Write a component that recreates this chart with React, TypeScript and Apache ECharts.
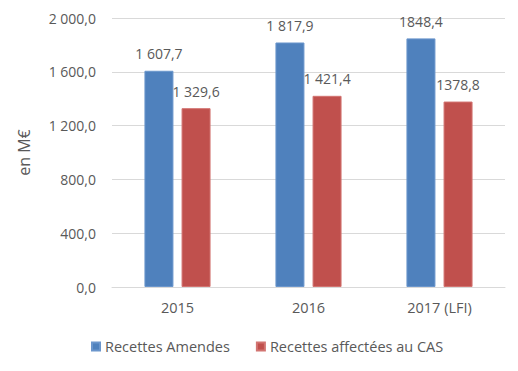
import React, { useEffect, useRef } from "react";
import * as echarts from "echarts";

const categories = ["2015", "2016", "2017 (LFI)"];
const amendes = [1607.7, 1817.9, 1848.4];
const affectees = [1329.6, 1421.4, 1378.8];
const amendesLabels = ["1 607,7", "1 817,9", "1848,4"];
const affecteesLabels = ["1 329,6", "1 421,4", "1378,8"];
const seriesNames = ["Recettes Amendes", "Recettes affectées au CAS"];

const fmtAxis = (v: number) => {
  const s = v.toFixed(1).replace(".", ",");
  const [i, d] = s.split(",");
  return i.replace(/\B(?=(\d{3})+(?!\d))/g, " ") + "," + d;
};

const FONT = "Open Sans";
const TXT = "#595959";

export default function App() {
  const ref = useRef<HTMLDivElement>(null);
  useEffect(() => {
    if (!ref.current) return;
    const chart = echarts.init(ref.current, undefined, { renderer: "svg" });
    chart.setOption({
      animation: false,
      textStyle: { fontFamily: FONT, color: TXT },
      grid: { left: 112, right: 13, top: 18, bottom: 84, containLabel: false },
      legend: {
        bottom: 12,
        left: 86,
        itemWidth: 8,
        itemHeight: 8,
        itemGap: 26,
        icon: "rect",
        textStyle: { fontFamily: FONT, color: TXT, fontSize: 14.5 },
        data: seriesNames,
      },
      xAxis: {
        type: "category",
        data: categories,
        axisLine: { lineStyle: { color: "#d9d9d9" } },
        axisTick: { show: false },
        axisLabel: { color: TXT, fontSize: 14.5, fontFamily: FONT, margin: 13 },
      },
      yAxis: {
        type: "value",
        min: 0,
        max: 2000,
        interval: 400,
        name: "en M€",
        nameLocation: "middle",
        nameGap: 80,
        nameRotate: 90,
        nameTextStyle: { color: TXT, fontSize: 16, fontFamily: FONT },
        axisLine: { show: false },
        axisTick: { show: false },
        splitLine: { lineStyle: { color: "#d9d9d9", width: 1 } },
        axisLabel: {
          color: TXT,
          fontSize: 14,
          fontFamily: FONT,
          margin: 16,
          formatter: (v: number) => fmtAxis(v),
        },
      },
      series: [
        {
          name: seriesNames[0],
          type: "bar",
          data: amendes,
          barWidth: 29,
          barGap: "28%",
          itemStyle: { color: "#4F81BD", borderColor: "#6b96cc", borderWidth: 1 },
          label: {
            show: true,
            position: "top",
            distance: 10,
            color: TXT,
            fontSize: 14,
            fontFamily: FONT,
            formatter: (p: any) => amendesLabels[p.dataIndex],
          },
        },
        {
          name: seriesNames[1],
          type: "bar",
          data: affectees,
          barWidth: 29,
          itemStyle: { color: "#C0504D", borderColor: "#d27471", borderWidth: 1 },
          label: {
            show: true,
            position: "top",
            distance: 10,
            color: TXT,
            fontSize: 14,
            fontFamily: FONT,
            formatter: (p: any) => affecteesLabels[p.dataIndex],
          },
        },
      ],
    });
    return () => chart.dispose();
  }, []);
  return <div ref={ref} style={{ width: 518, height: 371, margin: -8 }} />;
}
